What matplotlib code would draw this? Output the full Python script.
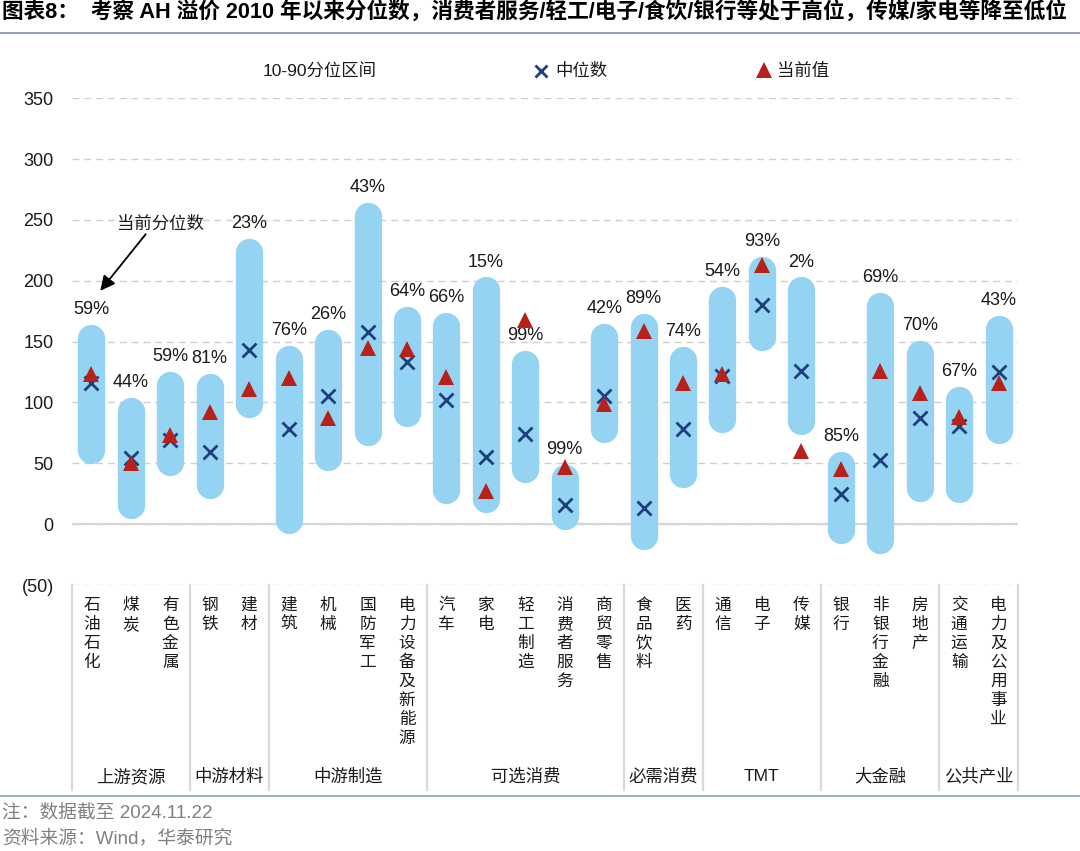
import numpy as np
import matplotlib
matplotlib.use('Agg')
import matplotlib.pyplot as plt
import matplotlib.transforms as mtransforms
from matplotlib.lines import Line2D

plt.rcParams['font.family'] = ['Liberation Sans', 'Noto Sans CJK SC']

# 行业及分组
industry_list = ['石油石化', '煤炭', '有色金属', '钢铁', '建材', '建筑', '机械', '国防军工',
                 '电力设备及新能源', '汽车', '家电', '轻工制造', '消费者服务', '商贸零售',
                 '食品饮料', '医药', '通信', '电子', '传媒', '银行', '非银行金融', '房地产',
                 '交通运输', '电力及公用事业']
group_list = ['上游资源', '中游材料', '中游制造', '可选消费', '必需消费', 'TMT', '大金融', '公共产业']
group_size = [3, 2, 4, 5, 2, 3, 3, 2]

# AH溢价 10/90分位、中位数、当前值
p10 = [61, 16, 51, 32, 99, 3, 55, 76, 91, 28, 21, 45, 7, 78, -10, 41, 86, 154, 85, -5, -13, 30, 29, 77]
p90 = [153, 93, 114, 113, 224, 136, 149, 253, 168, 163, 192, 132, 38, 154, 162, 135, 184, 209, 192, 49,
       179, 140, 102, 160]
median = [116, 54, 69, 59, 143, 78, 105, 158, 133, 102, 55, 74, 16, 105, 13, 78, 122, 180, 126, 25, 53,
          87, 81, 125]
current = [123, 50, 73, 92, 111, 120, 87, 145, 144, 121, 27, 168, 47, 99, 159, 116, 123, 213, 60, 45,
           126, 108, 88, 116]
pct_label = ['59%', '44%', '59%', '81%', '23%', '76%', '26%', '43%', '64%', '66%', '15%', '99%', '99%',
             '42%', '89%', '74%', '54%', '93%', '2%', '85%', '69%', '70%', '67%', '43%']

W, H = 1080, 851
fig = plt.figure(figsize=(W / 100, H / 100), dpi=100)
fig.patch.set_facecolor('white')


def fy(py):
    # 像素y转figure坐标
    return 1 - py / H


ax = fig.add_axes([71.7 / W, fy(585), (1018.3 - 71.7) / W, fy(98.2) - fy(585)])
ax.set_xlim(-0.5, len(industry_list) - 0.5)
ax.set_ylim(-50, 350)
ax.set_yticks(range(-50, 351, 50))
ax.yaxis.set_major_formatter(plt.FuncFormatter(lambda v, p: '(%d)' % abs(v) if v < 0 else '%d' % v))
ax.tick_params(axis='y', length=0, pad=13, labelsize=13, labelcolor='#1a1a1a')
ax.set_xticks([])
for sp in ax.spines.values():
    sp.set_visible(False)
ax.yaxis.grid(True, linestyle=(0, (5, 3.5)), color='#CFCFCF', linewidth=1)
ax.set_axisbelow(True)
ax.axhline(0, color='#D6D6D6', linewidth=1.6, zorder=1)

x = np.arange(len(industry_list))
bar_color = '#94D3F1'
for i in x:
    ax.plot([i, i], [p10[i], p90[i]], color=bar_color, linewidth=19.7, solid_capstyle='round', zorder=2)
ax.plot(x, median, linestyle='none', marker='x', markersize=10, markeredgewidth=2,
        color='#1F3E7C', zorder=3)
ax.plot(x, current, linestyle='none', marker='^', markersize=11, markeredgewidth=0,
        color='#B8211A', zorder=4)

for i in x:
    ax.annotate(pct_label[i], xy=(i, p90[i]), xytext=(0, 20.5), textcoords='offset points',
                ha='center', va='center', fontsize=13, color='#1a1a1a')

# 当前分位数 标注
ax.annotate('', xy=(0.18, 190), xytext=(1.42, 240),
            arrowprops=dict(arrowstyle='-|>', color='black', lw=1.3, mutation_scale=22))
ax.text(1.75, 247, '当前分位数', ha='center', va='center', fontsize=12.5,
        family='Noto Sans CJK SC', color='#1a1a1a')

# 图例
fig.text(263 / W, fy(70.5), '10-90分位区间', ha='left', va='center', fontsize=12.5, color='#1a1a1a')
fig.add_artist(Line2D([541 / W], [fy(70.5)], marker='x', markersize=9, markeredgewidth=2,
                      color='#1F3E7C', transform=fig.transFigure))
fig.text(555 / W, fy(70.5), '中位数', ha='left', va='center', fontsize=12.5, color='#1a1a1a')
fig.add_artist(Line2D([764 / W], [fy(70)], marker='^', markersize=11, markeredgewidth=0,
                      color='#B8211A', transform=fig.transFigure))
fig.text(777 / W, fy(70.5), '当前值', ha='left', va='center', fontsize=12.5, color='#1a1a1a')

# 底部行业及分组
trans = mtransforms.blended_transform_factory(ax.transData, fig.transFigure)
for i in x:
    ax.text(i, fy(597), '\n'.join(industry_list[i]), transform=trans, ha='center', va='top',
            fontsize=12, linespacing=1.15, family='Noto Sans CJK SC', color='#1a1a1a', clip_on=False)

bounds = np.concatenate([[0], np.cumsum(group_size)]) - 0.5
for b in bounds:
    ax.plot([b, b], [fy(585), fy(790)], transform=trans, color='#D9D9D9', linewidth=1.6, clip_on=False)
for g in range(len(group_list)):
    mid = (bounds[g] + bounds[g + 1]) / 2
    ax.text(mid, fy(776.5), group_list[g], transform=trans, ha='center', va='center',
            fontsize=12.5, color='#1a1a1a', clip_on=False)

# 标题、分隔线、注释
fig.text(0.002, fy(13), '图表8：  考察 AH 溢价 2010 年以来分位数，消费者服务/轻工/电子/食饮/银行等处于高位，传媒/家电等降至低位',
         ha='left', va='center', fontsize=15.6, fontweight='bold', color='black')
fig.add_artist(Line2D([0, 1], [fy(33), fy(33)], color='#7F8FA9', linewidth=1.2, transform=fig.transFigure))
fig.add_artist(Line2D([0, 1], [fy(796), fy(796)], color='#8FAAD0', linewidth=1.3, transform=fig.transFigure))
fig.text(0.002, fy(812.5), '注：数据截至 2024.11.22', ha='left', va='center', fontsize=13.5, color='#808080')
fig.text(0.002, fy(838.5), '资料来源：Wind，华泰研究', ha='left', va='center', fontsize=13.5, color='#808080')

fig.savefig('out.png', dpi=100, facecolor='white')
